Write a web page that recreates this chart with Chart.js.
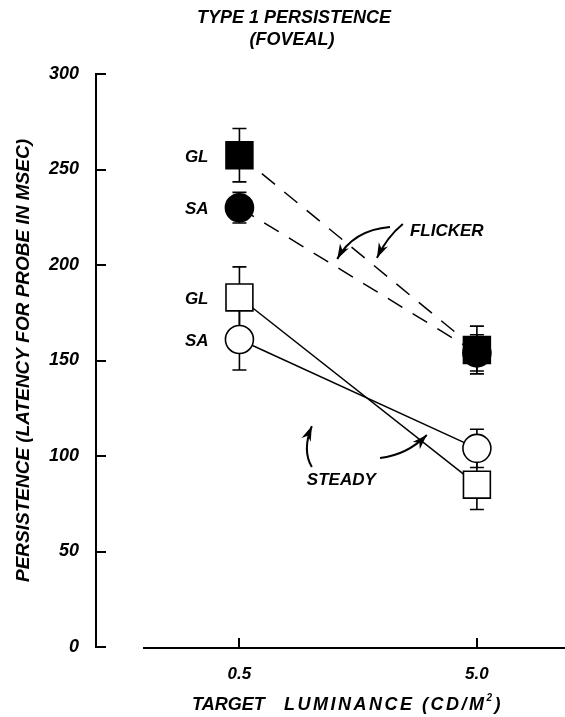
<!DOCTYPE html>
<html><head><meta charset="utf-8">
<script src="https://cdn.jsdelivr.net/npm/chart.js@4"></script>
<style>html,body{margin:0;padding:0;background:#fff}canvas{display:block}</style>
</head><body>
<canvas id="c" width="565" height="717"></canvas>
<script>
// ---- data ----
const categories = ['0.5', '5.0'];
const yTicks = [0, 50, 100, 150, 200, 250, 300];
const glFlicker = [257.5, 155.5];
const glFlickerErr = [14, 12.5];
const saFlicker = [230, 154];
const saFlickerErr = [8, 9.5];
const glSteady = [183, 85];
const glSteadyErr = [16, 13];
const saSteady = [161, 104];
const saSteadyErr = [16, 10];
const titleLines = ['TYPE 1 PERSISTENCE', '(FOVEAL)'];
const yTitle = 'PERSISTENCE (LATENCY FOR PROBE IN MSEC)';
const xTitleParts = ['TARGET', 'LUMINANCE', '(CD/M', '2', ')'];

const FAM = '"Liberation Sans", Arial, Helvetica, sans-serif';
const fnt = (s) => ({family: FAM, size: s, weight: 'bold', style: 'italic'});
const cssF = (s) => 'italic bold ' + s + 'px ' + FAM;

const pts = (arr) => arr.map((v, i) => ({x: i, y: v}));

const series = [
  {key:'glF', data: glFlicker, err: glFlickerErr, style:'rect', fill:'#000', dash:[17,12], label:'GL'},
  {key:'saF', data: saFlicker, err: saFlickerErr, style:'circle', fill:'#000', dash:[17,12], label:'SA'},
  {key:'glS', data: glSteady, err: glSteadyErr, style:'rect', fill:'#fff', dash:[], label:'GL'},
  {key:'saS', data: saSteady, err: saSteadyErr, style:'circle', fill:'#fff', dash:[], label:'SA'}
];

// annotation arrows in data space: [start, control, tip]
const arrows = [
  [[0.634, 219.9], [0.478, 218.3], [0.412, 203.1]],
  [[0.688, 221.5], [0.621, 214.7], [0.579, 203.7]],
  [[0.305, 94.2], [0.263, 103.1], [0.305, 115.7]],
  [[0.592, 99.0], [0.705, 100.5], [0.789, 111.0]]
];
const notes = [
  {text: 'FLICKER', x: 0.718, y: 217.8},
  {text: 'STEADY', x: 0.284, y: 87.4}
];

const deco = {
  id: 'deco',
  beforeDatasetsDraw(chart) {
    const ctx = chart.ctx, xs = chart.scales.x, ys = chart.scales.y;
    ctx.save();
    ctx.strokeStyle = '#000'; ctx.lineWidth = 1.6;
    series.forEach(s => {
      s.data.forEach((v, i) => {
        const px = xs.getPixelForValue(i);
        const top = ys.getPixelForValue(v + s.err[i]);
        const bot = ys.getPixelForValue(v - s.err[i]);
        ctx.beginPath();
        ctx.moveTo(px, top); ctx.lineTo(px, bot);
        ctx.moveTo(px - 7, top); ctx.lineTo(px + 7, top);
        ctx.moveTo(px - 7, bot); ctx.lineTo(px + 7, bot);
        ctx.stroke();
      });
    });
    ctx.restore();
  },
  afterDraw(chart) {
    const ctx = chart.ctx, xs = chart.scales.x, ys = chart.scales.y, ca = chart.chartArea;
    ctx.save();
    ctx.strokeStyle = '#000'; ctx.fillStyle = '#000';
    // y ticks (inward)
    ctx.lineWidth = 2;
    ys.ticks.forEach(t => {
      const py = Math.round(ys.getPixelForValue(t.value));
      ctx.beginPath(); ctx.moveTo(ca.left, py); ctx.lineTo(ca.left + 10, py); ctx.stroke();
    });
    // x axis line and ticks
    const by = Math.round(ca.bottom) + 1;
    ctx.beginPath(); ctx.moveTo(143, by); ctx.lineTo(ca.right, by); ctx.stroke();
    xs.ticks.forEach(t => {
      const px = Math.round(xs.getPixelForValue(t.value));
      ctx.beginPath(); ctx.moveTo(px, by); ctx.lineTo(px, by - 10); ctx.stroke();
    });
    // title
    ctx.font = cssF(18); ctx.textAlign = 'center'; ctx.textBaseline = 'middle';
    ctx.fillText(titleLines[0], 294, 18);
    ctx.fillText(titleLines[1], 292, 40);
    // x axis title
    ctx.textAlign = 'left';
    ctx.font = cssF(18);
    ctx.fillText(xTitleParts[0], 192, 705);
    ctx.letterSpacing = '2.5px';
    ctx.fillText(xTitleParts[1], 284, 705);
    ctx.fillText(xTitleParts[2], 422, 705);
    let w = ctx.measureText(xTitleParts[2]).width;
    ctx.letterSpacing = '0px';
    ctx.font = cssF(10);
    ctx.fillText(xTitleParts[3], 422 + w, 698);
    ctx.font = cssF(18);
    ctx.fillText(xTitleParts[4], 422 + w + 8, 705);
    // GL / SA labels
    ctx.font = cssF(17); ctx.textAlign = 'center';
    series.forEach(s => {
      ctx.fillText(s.label, xs.getPixelForValue(-0.18), ys.getPixelForValue(s.data[0]) + 2);
    });
    // notes
    ctx.textAlign = 'left';
    notes.forEach(n => ctx.fillText(n.text, xs.getPixelForValue(n.x), ys.getPixelForValue(n.y)));
    // arrows
    ctx.lineWidth = 2;
    arrows.forEach(a => {
      const p = a.map(q => [xs.getPixelForValue(q[0]), ys.getPixelForValue(q[1])]);
      ctx.beginPath();
      ctx.moveTo(p[0][0], p[0][1]);
      ctx.quadraticCurveTo(p[1][0], p[1][1], p[2][0], p[2][1]);
      ctx.stroke();
      const ang = Math.atan2(p[2][1] - p[1][1], p[2][0] - p[1][0]);
      const L = 15, W = 5;
      const tx = p[2][0], ty = p[2][1];
      ctx.beginPath();
      ctx.moveTo(tx, ty);
      ctx.lineTo(tx - L * Math.cos(ang) + W * Math.sin(ang), ty - L * Math.sin(ang) - W * Math.cos(ang));
      ctx.lineTo(tx - L * 0.7 * Math.cos(ang), ty - L * 0.7 * Math.sin(ang));
      ctx.lineTo(tx - L * Math.cos(ang) - W * Math.sin(ang), ty - L * Math.sin(ang) + W * Math.cos(ang));
      ctx.closePath(); ctx.fill();
    });
    ctx.restore();
  }
};

new Chart(document.getElementById('c'), {
  type: 'line',
  data: {
    datasets: series.map(s => ({
      label: s.key,
      data: pts(s.data),
      borderColor: '#000',
      borderWidth: 1.5,
      borderDash: s.dash,
      pointStyle: s.style,
      pointRadius: s.style === 'rect' ? 19 : 14,
      pointBackgroundColor: s.fill,
      pointBorderColor: '#000',
      pointBorderWidth: 1.6,
      tension: 0,
      fill: false,
      clip: false
    }))
  },
  options: {
    responsive: false,
    animation: false,
    events: [],
    layout: {autoPadding: false, padding: {top: 74, right: 0, bottom: 0, left: 0}},
    plugins: {legend: {display: false}, tooltip: {enabled: false}, title: {display: false}},
    scales: {
      x: {
        type: 'linear', min: -0.604, max: 1.371,
        afterBuildTicks: (sc) => { sc.ticks = categories.map((c, i) => ({value: i})); },
        afterFit: (sc) => { sc.height = 70; sc.paddingLeft = 0; sc.paddingRight = 0; },
        grid: {display: false}, border: {display: false},
        ticks: {callback: (v) => categories[v] !== undefined ? categories[v] : '', font: fnt(17), color: '#000', padding: 9, maxRotation: 0, autoSkip: false},
        title: {display: false}
      },
      y: {
        type: 'linear', min: 0, max: 300,
        afterBuildTicks: (sc) => { sc.ticks = yTicks.map(v => ({value: v})); },
        afterFit: (sc) => { sc.width = 96; sc.paddingTop = 0; sc.paddingBottom = 0; },
        grid: {display: false},
        border: {display: true, color: '#000', width: 2},
        ticks: {font: fnt(18), color: '#000', padding: 9},
        title: {display: true, text: yTitle, font: fnt(19), color: '#000', padding: {top: 12, bottom: 0}}
      }
    }
  },
  plugins: [deco]
});
</script>
</body></html>
